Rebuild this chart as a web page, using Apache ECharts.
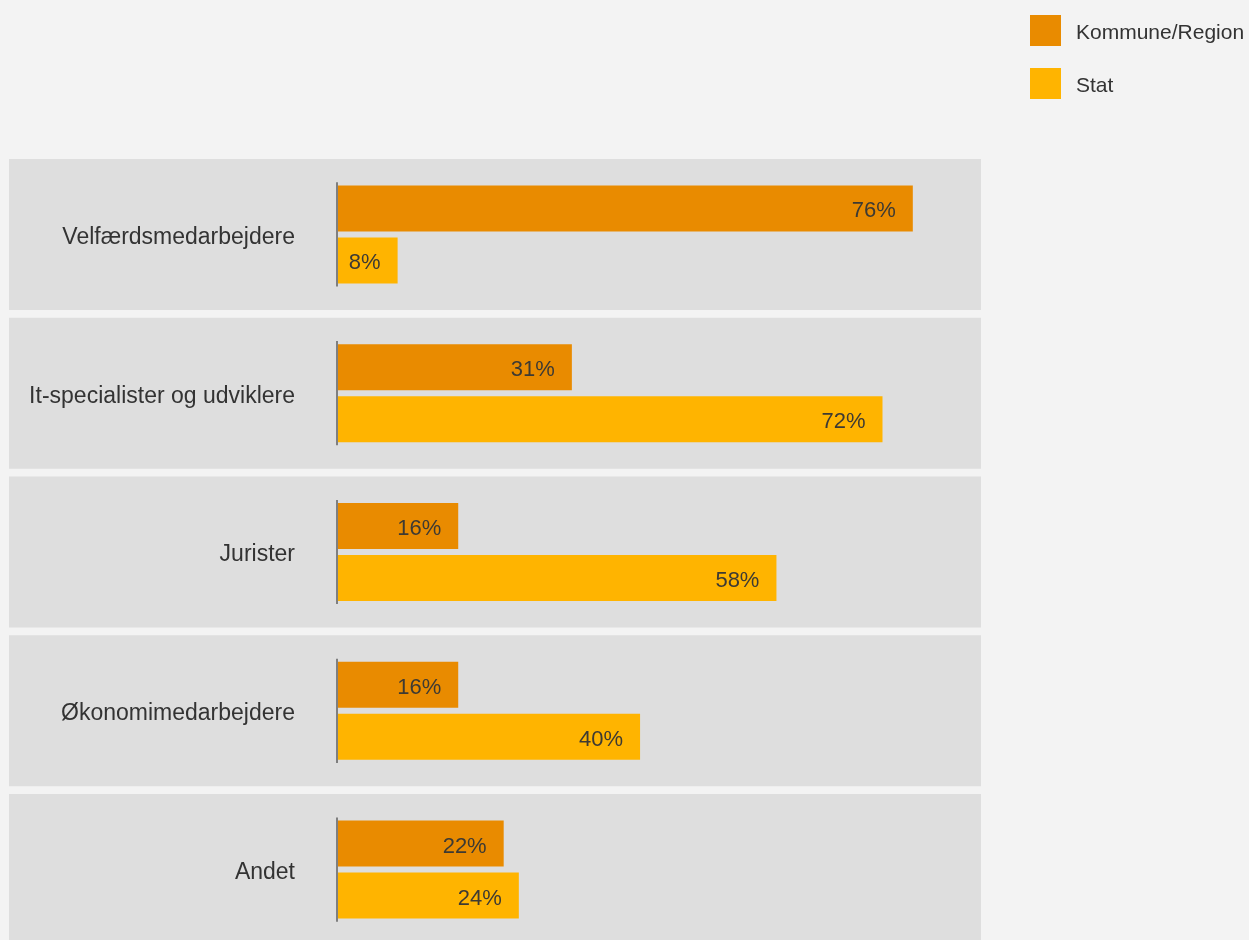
<!DOCTYPE html>
<html>
<head>
<meta charset="utf-8">
<script src="https://cdn.jsdelivr.net/npm/echarts@6/dist/echarts.min.js"></script>
<style>
html,body{margin:0;padding:0;background:#f3f3f3;}
#chart{width:1249px;height:940px;}
</style>
</head>
<body>
<div id="chart"></div>
<script>
const categories = ['Velfærdsmedarbejdere', 'It-specialister og udviklere', 'Jurister', 'Økonomimedarbejdere', 'Andet'];
const kommuneRegion = [76, 31, 16, 16, 22];
const stat = [8, 72, 58, 40, 24];
const seriesNames = ['Kommune/Region', 'Stat'];
const xMax = 85;

const FONT = '"Helvetica Neue", "Liberation Sans", Arial, sans-serif';
const chart = echarts.init(document.getElementById('chart'));

const labelOpt = {
  show: true,
  position: 'insideRight',
  distance: 17,
  offset: [0, 3],
  formatter: p => p.value + '%',
  color: '#3d3a33',
  fontSize: 22,
  fontWeight: 300,
  fontFamily: FONT
};

chart.setOption({
  backgroundColor: '#f3f3f3',
  animation: false,
  textStyle: { fontFamily: FONT },
  legend: {
    orient: 'vertical',
    left: 1030,
    top: 15,
    padding: 0,
    itemWidth: 31,
    itemHeight: 31,
    itemGap: 22,
    icon: 'rect',
    formatter: name => '{t|' + name + '}',
    textStyle: {
      fontSize: 21, color: '#333', fontFamily: FONT, padding: [0, 0, 0, 10],
      rich: { t: { fontSize: 21, color: '#333', fontFamily: FONT, padding: [6, 0, 0, 0] } }
    },
    data: seriesNames
  },
  grid: [
    { left: 337, top: 155, width: 644, height: 794, outerBoundsMode: 'none', containLabel: false },
    { left: 9, top: 155, width: 972, height: 794, outerBoundsMode: 'none', containLabel: false }
  ],
  xAxis: [
    { type: 'value', gridIndex: 0, min: 0, max: xMax, show: false },
    { type: 'value', gridIndex: 1, min: 0, max: 1, show: false }
  ],
  yAxis: [
    {
      type: 'category', gridIndex: 0, data: categories, inverse: true, z: 10,
      axisLine: { show: false }, axisTick: { show: false },
      axisLabel: {
        margin: 42, fontSize: 23, color: '#333', fontFamily: FONT,
        formatter: v => '{c|' + v + '}',
        rich: { c: { fontSize: 23, color: '#333', fontFamily: FONT, padding: [6, 0, 0, 0] } }
      }
    },
    {
      type: 'category', gridIndex: 1, data: categories, inverse: true, show: false
    }
  ],
  series: [
    {
      name: 'band', type: 'bar', xAxisIndex: 1, yAxisIndex: 1, silent: true, z: 0,
      data: categories.map(() => 1), barWidth: 151,
      itemStyle: { color: '#dedede' }, label: { show: false }
    },
    {
      name: seriesNames[0], type: 'bar', xAxisIndex: 0, yAxisIndex: 0, z: 3,
      data: kommuneRegion, barWidth: 46, barGap: '13%',
      itemStyle: { color: '#e98b00' }, label: labelOpt
    },
    {
      name: seriesNames[1], type: 'bar', xAxisIndex: 0, yAxisIndex: 0, z: 3,
      data: stat, barWidth: 46, barGap: '13%',
      itemStyle: { color: '#ffb400' }, label: labelOpt
    },
    {
      name: 'axis', type: 'custom', xAxisIndex: 0, yAxisIndex: 0, z: 4, silent: true,
      data: categories.map((c, i) => [0, i]),
      renderItem: function (params, api) {
        const p = api.coord([api.value(0), api.value(1)]);
        const h = api.size([0, 1])[1];
        return {
          type: 'line',
          shape: { x1: p[0], y1: p[1] - h * 0.328, x2: p[0], y2: p[1] + h * 0.328 },
          style: { stroke: '#7f7f7f', lineWidth: 2 }
        };
      }
    }
  ]
});
</script>
</body>
</html>
